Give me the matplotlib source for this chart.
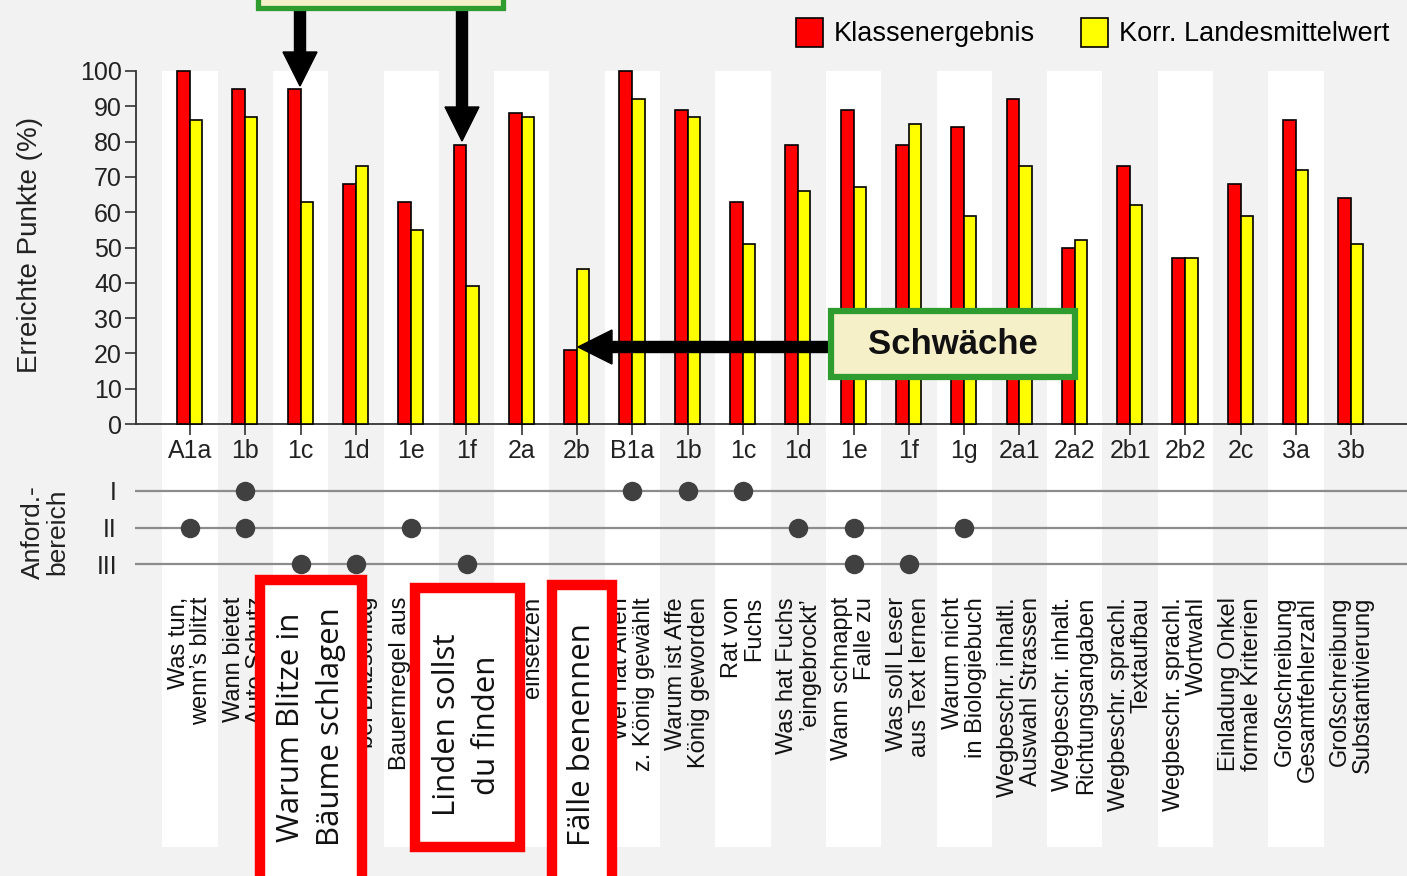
import matplotlib
matplotlib.use('Agg')
import matplotlib.pyplot as plt
import matplotlib.transforms as mtransforms
from matplotlib.patches import Rectangle, FancyArrow

plt.rcParams['font.family'] = ['Liberation Sans', 'DejaVu Sans']

codes = ['A1a', '1b', '1c', '1d', '1e', '1f', '2a', '2b',
         'B1a', '1b', '1c', '1d', '1e', '1f', '1g',
         '2a1', '2a2', '2b1', '2b2', '2c', '3a', '3b']
klasse = [100, 95, 95, 68, 63, 79, 88, 21,
          100, 89, 63, 79, 89, 79, 84,
          92, 50, 73, 47, 68, 86, 64]
landes = [86, 87, 63, 73, 55, 39, 87, 44,
          92, 87, 51, 66, 67, 85, 59,
          73, 52, 62, 47, 59, 72, 51]
aufgaben = ['Was tun,\nwenn\u2019s blitzt', 'Wann bietet\nAuto Schutz',
            'Warum Blitze in\nB\u00e4ume schlagen', 'Verhalten\nbei Blitzschlag',
            'Bauernregel aus\nText ableiten', 'Linden sollst\ndu finden',
            'W\u00f6rter\neinsetzen', 'F\u00e4lle benennen',
            'Wer hat Affen\nz. K\u00f6nig gew\u00e4hlt', 'Warum ist Affe\nK\u00f6nig geworden',
            'Rat von\nFuchs', 'Was hat Fuchs\n\u2019eingebrockt\u2019',
            'Wann schnappt\nFalle zu', 'Was soll Leser\naus Text lernen',
            'Warum nicht\nin Biologiebuch', 'Wegbeschr. inhaltl.\nAuswahl Strassen',
            'Wegbeschr. inhalt.\nRichtungsangaben', 'Wegbeschr. sprachl.\nTextaufbau',
            'Wegbeschr. sprachl.\nWortwahl', 'Einladung Onkel\nformale Kriterien',
            'Gro\u00dfschreibung\nGesamtfehlerzahl', 'Gro\u00dfschreibung\nSubstantivierung']
bereich_rows = ['I', 'II', 'III']
bereich_I = [1, 8, 9, 10]
bereich_II = [0, 1, 4, 11, 12, 14]
bereich_III = [2, 3, 5, 12, 13]
# tasks framed in red (their text is shown large inside the box)
highlighted = [2, 5, 7]

W, H = 1407, 876
x0px, dx = 190, 55.3


def px2x(p):
    return (p - x0px) / dx


fig = plt.figure(figsize=(W / 100, H / 100), dpi=100)
fig.patch.set_facecolor('#f2f2f2')
pix = mtransforms.Affine2D().scale(1 / W, -1 / H).translate(0, 1) + fig.transFigure

idx = list(range(len(codes)))

# background with white columns
bg = fig.add_axes([0, 0, 1, 1])
bg.set_xlim(px2x(0), px2x(W))
bg.set_ylim(H, 0)
bg.axis('off')
bg.bar(idx[::2], 847 - 71, bottom=71, width=1.0, color='white', zorder=0)

# bars
ax = fig.add_axes([136 / W, 1 - 424 / H, (W - 136) / W, (424 - 71) / H])
ax.set_facecolor('none')
ax.set_xlim(px2x(136), px2x(W))
ax.set_ylim(0, 100)
bw = 0.235
ax.bar([i - bw for i in idx], klasse, width=bw, align='edge', color='#ff0000',
       edgecolor='black', lw=1.2, label='Klassenergebnis', clip_on=False, zorder=3)
ax.bar(idx, landes, width=0.22, align='edge', color='#ffff00',
       edgecolor='black', lw=1.2, label='Korr. Landesmittelwert', clip_on=False, zorder=3)
for s in ['top', 'right']:
    ax.spines[s].set_visible(False)
for s in ['left', 'bottom']:
    ax.spines[s].set_color('#333333')
    ax.spines[s].set_linewidth(1.3)
ax.set_yticks(range(0, 101, 10))
ax.set_xticks(idx, codes)
ax.tick_params(axis='y', length=8, width=1.2, labelsize=18, pad=2, colors='#333333',
               labelcolor='#222222')
ax.tick_params(axis='x', length=8, width=1.2, labelsize=18, pad=3, colors='#333333',
               labelcolor='#222222')
fig.text(30 / W, 1 - 245 / H, 'Erreichte Punkte (%)', rotation=90, ha='center',
         va='center', fontsize=20, color='#222222')

ax.legend(loc='upper right', bbox_to_anchor=(1.0, 1.0), bbox_transform=fig.transFigure,
          ncol=2, frameon=False, fontsize=19.5, handlelength=1.0, handleheight=1.3,
          handletextpad=0.4, columnspacing=1.7, borderaxespad=0.25)

# Anforderungsbereich dots
ax_d = fig.add_axes([135 / W, 1 - 600.5 / H, (W - 135) / W, 146 / H])
ax_d.set_facecolor('none')
ax_d.set_xlim(px2x(135), px2x(W))
ax_d.set_ylim(4, 0)
for s in ax_d.spines.values():
    s.set_visible(False)
ax_d.set_xticks([])
ax_d.set_yticks([1, 2, 3], bereich_rows)
ax_d.tick_params(axis='y', length=0, pad=13, labelsize=18, labelcolor='#222222')
for r in [1, 2, 3]:
    ax_d.axhline(r, color='#8c8c8c', lw=1.6, zorder=1)
for r, cols in zip([1, 2, 3], [bereich_I, bereich_II, bereich_III]):
    ax_d.plot(cols, [r] * len(cols), 'o', ms=14, mew=0, color='#404040', zorder=3)
fig.text(45 / W, 1 - 532 / H, 'Anford.-\nbereich', rotation=90, ha='center',
         va='center', fontsize=19, color='#222222', linespacing=1.0)

# task descriptions
for i, lab in zip(idx, aufgaben):
    if i in highlighted:
        continue
    bg.text(i, 597, lab, rotation=90, ha='center', va='top', multialignment='right',
            fontsize=17, linespacing=1.05, color='#111111', zorder=2)

# red highlight boxes
red_boxes = [(260, 580, 102, 330), (415, 588, 105, 259), (552, 585, 60, 330)]
red_text_pos = [(311, 727), (467, 725), (582, 735)]
for (x, y, w, h), (tx, ty), i in zip(red_boxes, red_text_pos, highlighted):
    fig.add_artist(Rectangle((x, y), w, h, transform=pix, facecolor='white',
                             edgecolor='#ff0000', lw=7.5, zorder=4))
    fig.text(tx / W, 1 - ty / H, aufgaben[i], rotation=90, ha='center', va='center',
             family='Open Sans', fontsize=22.5, linespacing=1.4, color='#111111', zorder=5)

# green boxes and arrows
fig.add_artist(Rectangle((257.5, -20), 245, 27.5, transform=pix, facecolor='#f5f0c8',
                         edgecolor='#2e9c2e', lw=3.8, zorder=4))
fig.add_artist(Rectangle((831, 311), 244, 66, transform=pix, facecolor='#f5f0c8',
                         edgecolor='#2e9c2e', lw=4.5, zorder=4))
fig.text(953 / W, 1 - 345 / H, 'Schw\u00e4che', ha='center', va='center', fontsize=25,
         fontweight='bold', color='#111111', zorder=5)
arrows = [(300, 10, 0, 76), (462, 10, 0, 131), (829, 347, -251, 0)]
for x, y, ddx, ddy in arrows:
    fig.add_artist(FancyArrow(x, y, ddx, ddy, width=11, head_width=34, head_length=34,
                              length_includes_head=True, color='black', transform=pix,
                              zorder=3))

fig.savefig('out.png', dpi=100, facecolor=fig.get_facecolor())
